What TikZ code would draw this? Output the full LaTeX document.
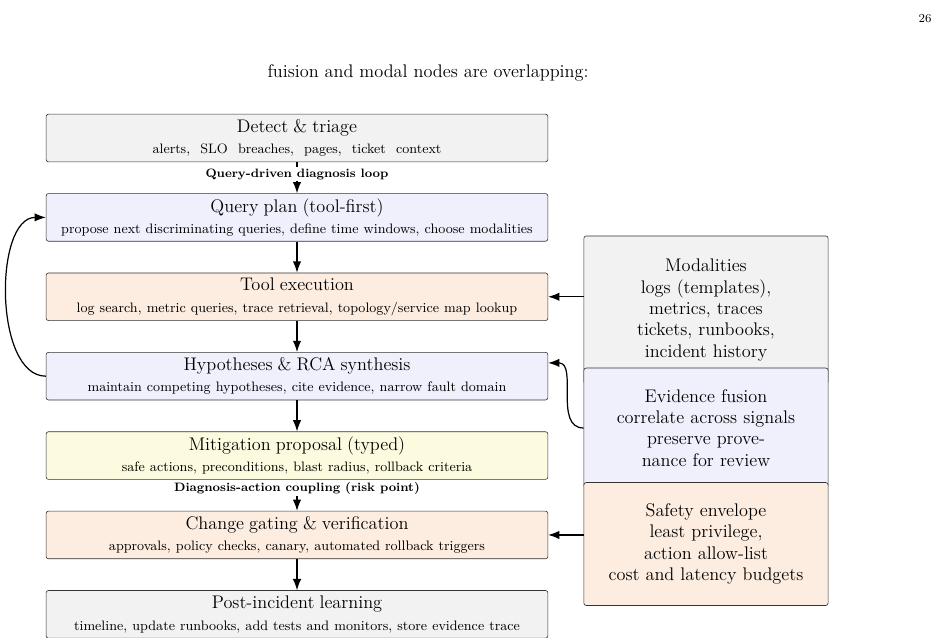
\documentclass[tikz,border=0pt]{standalone}
\usetikzlibrary{arrows.meta, positioning}
\definecolor{boxgray}{RGB}{242,242,242}
\definecolor{boxblue}{RGB}{239,240,251}
\definecolor{boxorange}{RGB}{253,237,224}
\definecolor{boxyellow}{RGB}{253,251,223}

\begin{document}
\begin{tikzpicture}
  [
    x=0.0231cm, y=-0.0231cm,
    Step/.style={rectangle, rounded corners=1.5pt, draw=black!80, thin, text width=11.45cm,
      minimum height=1.1cm, align=center, inner sep=2pt},
    Side/.style={rectangle, rounded corners=1.5pt, draw=black!80, thin, text width=5.5cm,
      align=center, inner sep=2pt, font=\large},
    Note/.style={font=\footnotesize\bfseries, fill=white, inner sep=1pt},
    Flow/.style={-{Latex[length=2.6mm]}, thick}
  ]
  \useasboundingbox (0,0) rectangle (938,638);
  % Header
  \node (page) at (925,19) {\footnotesize 26};
  \node (title) at (428,73) {\large fuision and modal nodes are overlapping:};
  % Pipeline
  \node[Step, fill=boxgray] (detect) at (297,138)
    {{\large Detect \& triage}\\[2pt]{\small alerts,\ \ SLO\ \ breaches,\ \ pages,\ \ ticket\ \ context}};
  \node[Step, fill=boxblue, below=0.72cm of detect] (plan)
    {{\large Query plan (tool-first)}\\[2pt]{\small propose next discriminating queries, define time windows, choose modalities}};
  \node[Step, fill=boxorange, below=0.72cm of plan] (exec)
    {{\large Tool execution}\\[2pt]{\small log search, metric queries, trace retrieval, topology/service map lookup}};
  \node[Step, fill=boxblue, below=0.72cm of exec] (hyp)
    {{\large Hypotheses \& RCA synthesis}\\[2pt]{\small maintain competing hypotheses, cite evidence, narrow fault domain}};
  \node[Step, fill=boxyellow, below=0.72cm of hyp] (mitig)
    {{\large Mitigation proposal (typed)}\\[2pt]{\small safe actions, preconditions, blast radius, rollback criteria}};
  \node[Step, fill=boxorange, below=0.72cm of mitig] (gate)
    {{\large Change gating \& verification}\\[2pt]{\small approvals, policy checks, canary, automated rollback triggers}};
  \node[Step, fill=boxgray, below=0.72cm of gate] (learn)
    {{\large Post-incident learning}\\[2pt]{\small timeline, update runbooks, add tests and monitors, store evidence trace}};
  % Side boxes
  \node[Side, fill=boxgray, minimum height=3.42cm] (modal) at (706,310)
    {Modalities\\logs (templates),\\metrics, traces\\tickets, runbooks,\\incident history};
  \node[Side, fill=boxblue, minimum height=2.77cm] (fusion) at (706,428)
    {Evidence fusion\\correlate across signals\\preserve prove-\\nance for review};
  \node[Side, fill=boxorange, minimum height=2.84cm] (safety) at (706,544)
    {Safety envelope\\least privilege,\\action allow-list\\cost and latency budgets};
  % Lines
  \draw[Flow] (detect) -- (plan);
  \draw[Flow] (plan) -- (exec);
  \draw[Flow] (exec) -- (hyp);
  \draw[Flow] (hyp) -- (mitig);
  \draw[Flow] (mitig) -- (gate);
  \draw[Flow] (gate) -- (learn);
  \draw[Flow] (modal.west |- exec.east) -- (exec.east);
  \draw[Flow] (fusion.west) .. controls +(-30,0) and +(30,0) .. ([yshift=-0.25cm]hyp.north east);
  \draw[Flow] (safety.west |- gate.east) -- (gate.east);
  \draw[Flow] (hyp.west) .. controls +(-52,0) and +(-52,0) .. (plan.west);
  % Labels
  \node[Note] (loopnote) at (297,174) {Query-driven diagnosis loop};
  \node[Note] (risknote) at (297,488) {Diagnosis-action coupling (risk point)};
\end{tikzpicture}
\end{document}
